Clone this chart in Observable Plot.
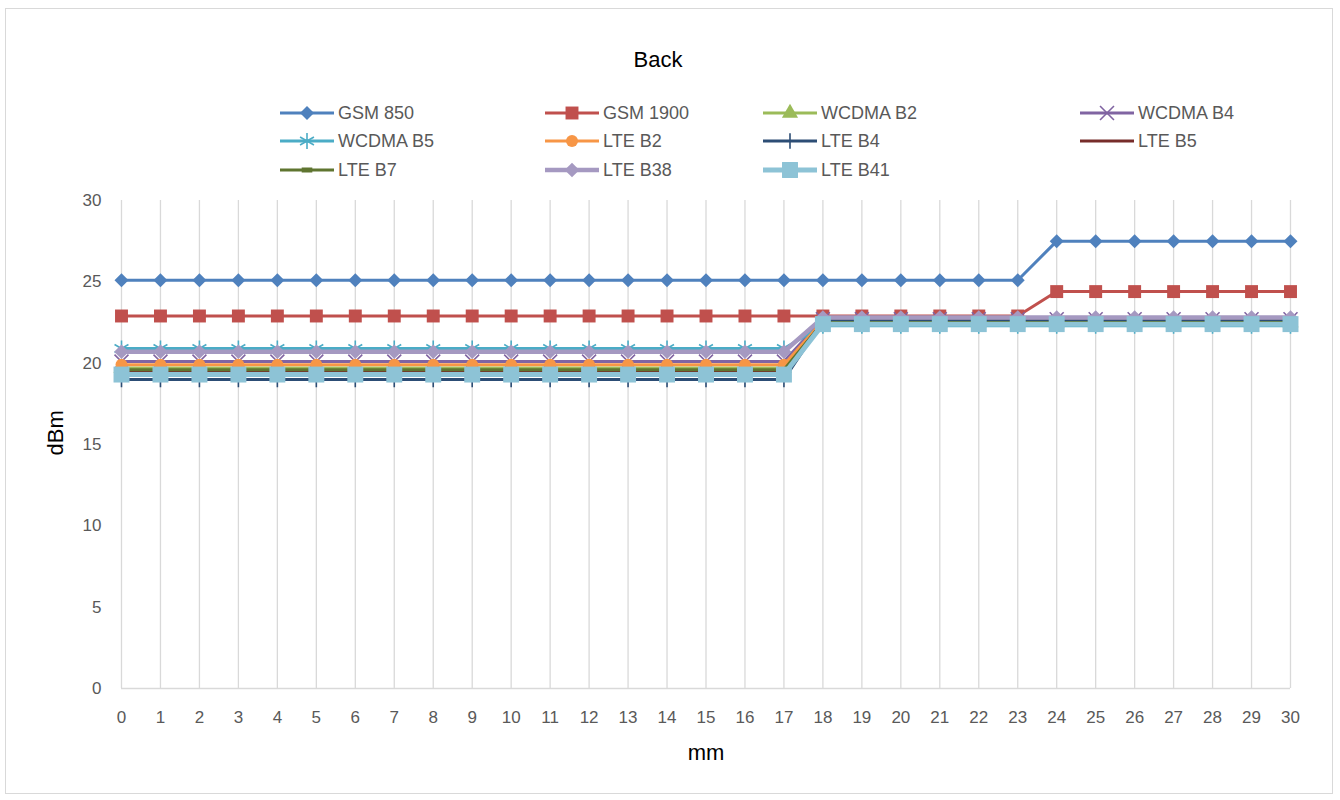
<!DOCTYPE html>
<html><head><meta charset="utf-8">
<script src="https://cdn.jsdelivr.net/npm/d3@7"></script>
<script src="https://cdn.jsdelivr.net/npm/@observablehq/plot@0.6"></script>
<style>
body{margin:0;background:#fff;font-family:"Liberation Sans",Arial,sans-serif;}
#frame{position:absolute;left:5px;top:8px;width:1328px;height:786px;border:1px solid #d9d9d9;box-sizing:border-box;}
#title{position:absolute;left:0;width:1316px;top:47px;text-align:center;font-size:22px;color:#000;}
#legend .item{position:absolute;height:24px;display:flex;align-items:center;}
#legend span{font-size:18px;color:#595959;white-space:nowrap;}
#chart{position:absolute;left:0;top:190px;}
</style></head>
<body>
<div id="frame"></div>
<div id="title">Back</div>
<div id="legend"></div>
<div id="chart"></div>
<script>
const mm = [0,1,2,3,4,5,6,7,8,9,10,11,12,13,14,15,16,17,18,19,20,21,22,23,24,25,26,27,28,29,30];
const yTicks = [0,5,10,15,20,25,30];
const seriesNames = ["GSM 850","GSM 1900","WCDMA B2","WCDMA B4","WCDMA B5","LTE B2","LTE B4","LTE B5","LTE B7","LTE B38","LTE B41"];

const gsm850  = [25.1,25.1,25.1,25.1,25.1,25.1,25.1,25.1,25.1,25.1,25.1,25.1,25.1,25.1,25.1,25.1,25.1,25.1,25.1,25.1,25.1,25.1,25.1,25.1,27.5,27.5,27.5,27.5,27.5,27.5,27.5];
const gsm1900 = [22.9,22.9,22.9,22.9,22.9,22.9,22.9,22.9,22.9,22.9,22.9,22.9,22.9,22.9,22.9,22.9,22.9,22.9,22.9,22.9,22.9,22.9,22.9,22.9,24.4,24.4,24.4,24.4,24.4,24.4,24.4];
const wcdmaB2 = [19.7,19.7,19.7,19.7,19.7,19.7,19.7,19.7,19.7,19.7,19.7,19.7,19.7,19.7,19.7,19.7,19.7,19.7,22.5,22.5,22.5,22.5,22.5,22.5,22.5,22.5,22.5,22.5,22.5,22.5,22.5];
const wcdmaB4 = [20.1,20.1,20.1,20.1,20.1,20.1,20.1,20.1,20.1,20.1,20.1,20.1,20.1,20.1,20.1,20.1,20.1,20.1,22.7,22.7,22.7,22.7,22.7,22.7,22.7,22.7,22.7,22.7,22.7,22.7,22.7];
const wcdmaB5 = [20.9,20.9,20.9,20.9,20.9,20.9,20.9,20.9,20.9,20.9,20.9,20.9,20.9,20.9,20.9,20.9,20.9,20.9,22.3,22.3,22.3,22.3,22.3,22.3,22.3,22.3,22.3,22.3,22.3,22.3,22.3];
const lteB2   = [19.9,19.9,19.9,19.9,19.9,19.9,19.9,19.9,19.9,19.9,19.9,19.9,19.9,19.9,19.9,19.9,19.9,19.9,22.6,22.6,22.6,22.6,22.6,22.6,22.6,22.6,22.6,22.6,22.6,22.6,22.6];
const lteB4   = [19.0,19.0,19.0,19.0,19.0,19.0,19.0,19.0,19.0,19.0,19.0,19.0,19.0,19.0,19.0,19.0,19.0,19.0,22.6,22.6,22.6,22.6,22.6,22.6,22.6,22.6,22.6,22.6,22.6,22.6,22.6];
const lteB5   = [19.5,19.5,19.5,19.5,19.5,19.5,19.5,19.5,19.5,19.5,19.5,19.5,19.5,19.5,19.5,19.5,19.5,19.5,22.5,22.5,22.5,22.5,22.5,22.5,22.5,22.5,22.5,22.5,22.5,22.5,22.5];
const lteB7   = [19.6,19.6,19.6,19.6,19.6,19.6,19.6,19.6,19.6,19.6,19.6,19.6,19.6,19.6,19.6,19.6,19.6,19.6,22.5,22.5,22.5,22.5,22.5,22.5,22.5,22.5,22.5,22.5,22.5,22.5,22.5];
const lteB38  = [20.7,20.7,20.7,20.7,20.7,20.7,20.7,20.7,20.7,20.7,20.7,20.7,20.7,20.7,20.7,20.7,20.7,20.7,22.8,22.8,22.8,22.8,22.8,22.8,22.8,22.8,22.8,22.8,22.8,22.8,22.8];
const lteB41  = [19.3,19.3,19.3,19.3,19.3,19.3,19.3,19.3,19.3,19.3,19.3,19.3,19.3,19.3,19.3,19.3,19.3,19.3,22.4,22.4,22.4,22.4,22.4,22.4,22.4,22.4,22.4,22.4,22.4,22.4,22.4];

const values = [gsm850,gsm1900,wcdmaB2,wcdmaB4,wcdmaB5,lteB2,lteB4,lteB5,lteB7,lteB38,lteB41];

const dash = {draw(ctx, size){ const w = Math.sqrt(size)*0.5; ctx.rect(-w, -2.5, 2*w, 5); }};
const vplus = {draw(ctx, size){ const h = Math.sqrt(size)*0.55; ctx.moveTo(0,-h); ctx.lineTo(0,h); ctx.moveTo(-h*0.45,0); ctx.lineTo(h*0.45,0); }};

const styles = [
  {color:"#4F81BD", sw:3, symbol:"diamond2", r:6.3, filled:true},
  {color:"#C0504D", sw:3, symbol:"square", r:7.3, filled:true},
  {color:"#9BBB59", sw:3, symbol:"triangle", r:6, filled:true},
  {color:"#8064A2", sw:3, symbol:"times", r:6.4, filled:false},
  {color:"#4BACC6", sw:3, symbol:"asterisk", r:7.6, filled:false},
  {color:"#F79646", sw:3, symbol:"circle", r:6, filled:true},
  {color:"#2C4D75", sw:3, symbol:vplus, r:8, filled:false},
  {color:"#772C2A", sw:3, symbol:null, r:0, filled:true},
  {color:"#5F7530", sw:3, symbol:dash, r:6, filled:true},
  {color:"#A599C1", sw:4.5, symbol:"diamond2", r:6.6, filled:true},
  {color:"#8DC3D6", sw:5, symbol:"square", r:9, filled:true}
];

const rows = seriesNames.flatMap((s,i) => mm.map((m,j) => ({series:s, mm:m, dBm:values[i][j]})));

const seriesMarks = seriesNames.flatMap((s,i) => {
  const st = styles[i];
  const d = rows.filter(r => r.series === s);
  const ms = [Plot.line(d, {x:"mm", y:"dBm", stroke:st.color, strokeWidth:st.sw})];
  if (st.symbol) {
    ms.push(Plot.dot(d, st.filled
      ? {x:"mm", y:"dBm", symbol:()=>st.symbol, r:st.r, fill:st.color, stroke:"none"}
      : {x:"mm", y:"dBm", symbol:()=>st.symbol, r:st.r, fill:"none", stroke:st.color, strokeWidth:1.6}));
  }
  return ms;
});

const chart = Plot.plot({
  width:1340, height:600,
  marginTop:10, marginBottom:102, marginLeft:121, marginRight:50,
  x:{domain:[0,30]},
  y:{domain:[0,30]},
  symbol:{type:"identity"},
  style:{fontFamily:"'Liberation Sans', Arial, sans-serif", background:"transparent", overflow:"visible"},
  marks:[
    Plot.ruleX(mm, {stroke:"#d9d9d9", strokeWidth:1.3}),
    Plot.ruleY([0], {stroke:"#d9d9d9", strokeWidth:1.3}),
    Plot.axisX({ticks:mm, tickSize:0, tickPadding:22, fontSize:17, fill:"#595959", label:null, tickFormat:d=>String(d)}),
    Plot.axisY({ticks:yTicks, tickSize:0, tickPadding:20, fontSize:17, fill:"#595959", label:null, tickFormat:d=>String(d)}),
    Plot.text(["dBm"], {text:d=>d, frameAnchor:"left", dx:-66, dy:11, rotate:-90, fontSize:22, fill:"#000"}),
    Plot.text(["mm"], {text:d=>d, frameAnchor:"bottom", dy:71, fontSize:22, fill:"#000"}),
    ...seriesMarks
  ]
});
document.getElementById("chart").append(chart);

// Legend
const colX = [280,545,763,1080];
const rowY = [113,141,170];
const symMap = {diamond2:d3.symbolDiamond2, square:d3.symbolSquare, triangle:d3.symbolTriangle, times:d3.symbolTimes, asterisk:d3.symbolAsterisk, circle:d3.symbolCircle, plus:d3.symbolPlus};
const legend = document.getElementById("legend");
seriesNames.forEach((s,i) => {
  const st = styles[i];
  const c = i % 4, r = Math.floor(i / 4);
  const item = document.createElement("div");
  item.className = "item";
  item.style.left = colX[c] + "px";
  item.style.top = (rowY[r] - 12) + "px";
  const svg = d3.create("svg").attr("width", 54).attr("height", 24).style("overflow","visible");
  svg.append("line").attr("x1",0).attr("x2",54).attr("y1",12).attr("y2",12).attr("stroke",st.color).attr("stroke-width",st.sw);
  if (st.symbol) {
    const sym = typeof st.symbol === "string" ? symMap[st.symbol] : st.symbol;
    const p = svg.append("path").attr("transform","translate(27,12)").attr("d", d3.symbol(sym, st.r*st.r*Math.PI)());
    if (st.filled) p.attr("fill", st.color); else p.attr("fill","none").attr("stroke",st.color).attr("stroke-width",1.6);
  }
  item.append(svg.node());
  const span = document.createElement("span");
  span.textContent = s;
  span.style.marginLeft = "4px";
  item.append(span);
  legend.append(item);
});
</script>
</body></html>
